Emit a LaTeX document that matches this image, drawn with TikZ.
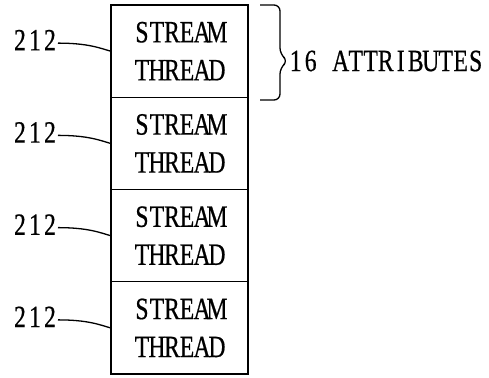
\documentclass[tikz,border=0pt]{standalone}
\usepackage{fontspec}
\setmainfont[FakeStretch=0.76,FakeBold=0.6]{Liberation Serif}
\newcommand\mchar[1]{\makebox[15pt][c]{#1}}
\newcommand\mono[1]{\monoloop#1\relax}
\def\monoloop#1{\ifx#1\relax\else\mchar{#1}\expandafter\monoloop\fi}
\tikzset{
  threadbox/.style={draw, line width=1.2pt, minimum width=137pt, minimum height=92.25pt,
    inner sep=0pt, align=center, font=\fontsize{31}{38}\selectfont},
  reflabel/.style={inner sep=0pt, font=\fontsize{31}{36}\selectfont},
  leader/.style={line width=1.3pt},
  bracestyle/.style={line width=1.3pt, line join=round, rounded corners=6pt}
}
\begin{document}
\begin{tikzpicture}[x=1pt,y=-1pt]
\useasboundingbox (0,0) rectangle (489,377);
\foreach \i/\cy in {1/51.125, 2/143.375, 3/235.625, 4/327.875}{
  \node[threadbox] (b\i) at (179.5,\cy) {\mono{STREAM}\\\mono{THREAD}};
  \node[reflabel] (l\i) at (35,\cy-11) {\mono{212}};
  \coordinate (s\i) at (58,\cy-8);
  \draw[leader] (s\i) .. controls (88,\cy-8) and (100,\cy-3) .. (b\i.west);
}
\node[reflabel, anchor=west] (attr) at (288,61) {\mono{16}\mchar{}\mono{ATTRIBUTES}};
\coordinate (tip) at (288,61);
\draw[bracestyle] (260,5) -- (280,5) -- (280,54) -- (tip) -- (280,68) -- (280,100) -- (260,100);
\end{tikzpicture}
\end{document}
